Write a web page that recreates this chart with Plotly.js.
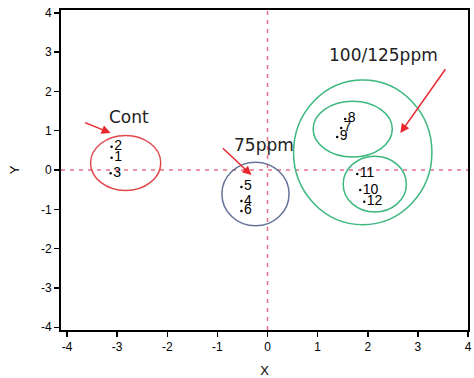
<!DOCTYPE html>
<html>
<head>
<meta charset="utf-8">
<script src="https://cdn.plot.ly/plotly-3.0.1.min.js"></script>
<style>html,body{margin:0;padding:0;background:#fff;}#chart{width:474px;height:378px;}</style>
</head>
<body>
<div id="chart"></div>
<script>
// point data
const pointLabels = ['1','2','3','4','5','6','7','8','9','10','11','12'];
const pointX = [-3.11, -3.11, -3.13, -0.52, -0.52, -0.52, 1.47, 1.55, 1.39, 1.85, 1.79, 1.93];
const pointY = [0.31, 0.59, -0.08, -0.79, -0.43, -1.04, 1.07, 1.30, 0.84, -0.51, -0.10, -0.81];

// group ellipses (center and radii in data units)
const ellipseCx = [-2.83, -0.24, 1.90, 1.70, 2.14];
const ellipseCy = [0.18, -0.61, 0.45, 1.04, -0.36];
const ellipseRx = [0.70, 0.67, 1.38, 0.79, 0.63];
const ellipseRy = [0.70, 0.81, 1.84, 0.71, 0.71];
const ellipseColors = ['#e0484c', '#66749a', '#3cb87e', '#3cb87e', '#3cb87e'];

// group labels with arrows
const groupNames = ['Cont', '75ppm', '100/125ppm'];
const groupLabelX = [-2.77, -0.08, 2.31];
const groupLabelY = [1.35, 0.64, 2.93];
const arrowTailX = [-3.67, -0.92, 3.57];
const arrowTailY = [1.22, 0.59, 2.60];
const arrowHeadX = [-3.13, -0.32, 2.65];
const arrowHeadY = [0.94, -0.13, 0.94];

const xTicks = [-4, -3, -2, -1, 0, 1, 2, 3, 4];
const yTicks = [-4, -3, -2, -1, 0, 1, 2, 3, 4];

const trace = {
  x: pointX, y: pointY, text: pointLabels,
  mode: 'markers+text', type: 'scatter',
  marker: {size: 2.5, color: '#000'},
  textposition: 'middle right',
  textfont: {family: 'Liberation Sans, Arial, sans-serif', size: 14, color: '#000'},
  cliponaxis: false, hoverinfo: 'none', showlegend: false
};

const shapes = [
  {type: 'line', xref: 'paper', yref: 'y', x0: 0, x1: 1, y0: 0, y1: 0,
   line: {color: '#e8708a', width: 1.5, dash: '4px,5px'}, layer: 'below'},
  {type: 'line', xref: 'x', yref: 'paper', x0: 0, x1: 0, y0: 0, y1: 1,
   line: {color: '#e8708a', width: 1.5, dash: '4px,5px'}, layer: 'below'}
];
for (let i = 0; i < ellipseCx.length; i++) {
  shapes.push({type: 'circle', xref: 'x', yref: 'y',
    x0: ellipseCx[i] - ellipseRx[i], x1: ellipseCx[i] + ellipseRx[i],
    y0: ellipseCy[i] - ellipseRy[i], y1: ellipseCy[i] + ellipseRy[i],
    line: {color: ellipseColors[i], width: 1.5}});
}

const annotations = [];
for (let i = 0; i < groupNames.length; i++) {
  annotations.push({x: groupLabelX[i], y: groupLabelY[i], xref: 'x', yref: 'y',
    text: groupNames[i], showarrow: false,
    font: {family: 'DejaVu Sans, Verdana, sans-serif', size: 17, color: '#222'}});
  annotations.push({x: arrowHeadX[i], y: arrowHeadY[i], ax: arrowTailX[i], ay: arrowTailY[i],
    xref: 'x', yref: 'y', axref: 'x', ayref: 'y', text: '', showarrow: true,
    arrowhead: 2, arrowsize: 1.2, arrowwidth: 1.5, arrowcolor: '#e8262e', standoff: 0});
}

const axisFont = {family: 'Liberation Sans, Arial, sans-serif', size: 12, color: '#000'};
const layout = {
  width: 474, height: 378,
  margin: {l: 61, r: 6, t: 10, b: 48},
  paper_bgcolor: '#fff', plot_bgcolor: '#fff',
  xaxis: {range: [-4.12, 4.0], tickvals: xTicks, ticktext: xTicks.map(String),
    showgrid: false, zeroline: false, showline: true, mirror: true,
    linecolor: '#000', linewidth: 2, ticks: 'outside', ticklen: 5, tickwidth: 1.5,
    tickcolor: '#000', tickfont: axisFont,
    title: {text: 'X', font: {family: 'Liberation Sans, Arial, sans-serif', size: 13, color: '#000'}, standoff: 12}},
  yaxis: {range: [-4.07, 4.07], tickvals: yTicks, ticktext: yTicks.map(String),
    showgrid: false, zeroline: false, showline: true, mirror: true,
    linecolor: '#000', linewidth: 2, ticks: 'outside', ticklen: 5, tickwidth: 1.5,
    tickcolor: '#000', tickfont: axisFont,
    title: {text: 'Y', font: {family: 'Liberation Sans, Arial, sans-serif', size: 13, color: '#000'}, standoff: 18}},
  shapes: shapes,
  annotations: annotations,
  showlegend: false
};

Plotly.newPlot('chart', [trace], layout, {staticPlot: true, displayModeBar: false});
</script>
</body>
</html>
